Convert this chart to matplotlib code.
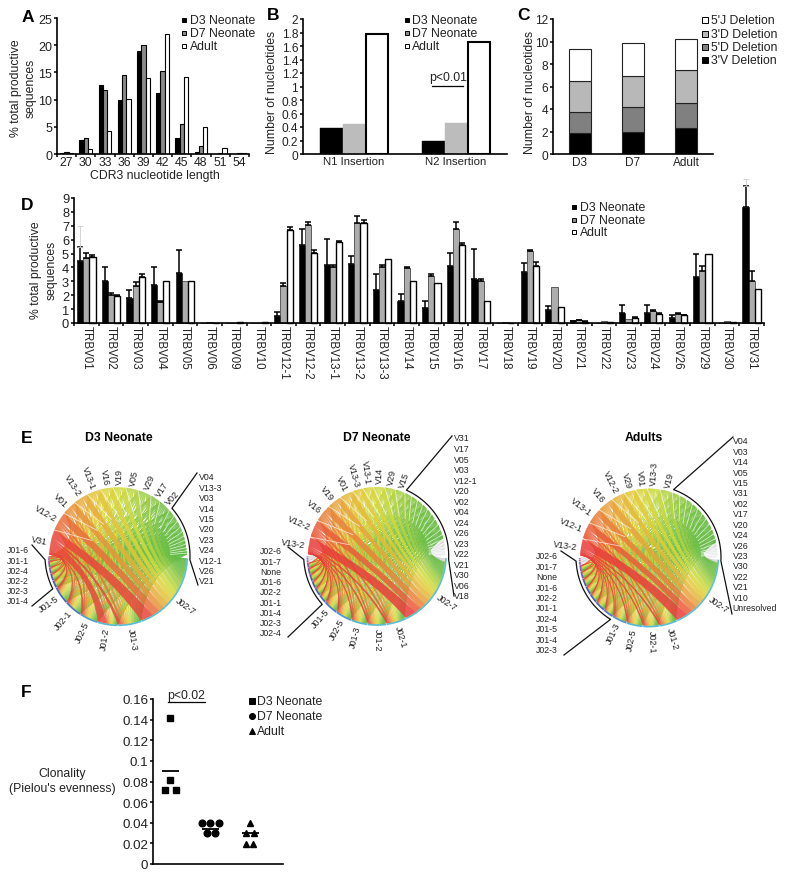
#!/usr/bin/env python3
"""Multi panel TCR repertoire figure (A-F): bars, stacks, chord diagrams, dots."""
import numpy as np
import matplotlib
matplotlib.use("Agg")
import matplotlib.pyplot as plt
from matplotlib.colors import LinearSegmentedColormap
from matplotlib.patches import PathPatch
from matplotlib.path import Path

plt.rcParams["font.family"] = ["Liberation Sans", "DejaVu Sans"]
plt.rcParams["text.color"] = "#222222"
plt.rcParams["xtick.labelcolor"] = "#222222"
plt.rcParams["ytick.labelcolor"] = "#222222"

W, H = 800, 879
FS = 8.8

# panel A
A_LEN = ["27", "30", "33", "36", "39", "42", "45", "48", "51", "54"]
A_D3 = [0.1, 2.6, 12.7, 9.9, 19.0, 11.3, 3.0, 0.35, 0.05, 0.0]
A_D7 = [0.3, 3.0, 11.8, 14.6, 20.0, 15.3, 5.6, 1.5, 0.25, 0.1]
A_AD = [0.15, 0.9, 4.2, 10.1, 14.0, 22.0, 14.2, 5.0, 1.1, 0.1]

# panel B
B_CATS = ["N1 Insertion", "N2 Insertion"]
B_D3 = [0.38, 0.19]
B_D7 = [0.44, 0.46]
B_AD = [1.78, 1.66]

# panel C
C_CATS = ["D3", "D7", "Adult"]
C_3V = [1.9, 2.0, 2.35]
C_5D = [1.85, 2.15, 2.2]
C_3D = [2.75, 2.75, 2.95]
C_5J = [2.8, 3.0, 2.7]

# panel D
D_GENES = ["TRBV01", "TRBV02", "TRBV03", "TRBV04", "TRBV05", "TRBV06", "TRBV09",
           "TRBV10", "TRBV12-1", "TRBV12-2", "TRBV13-1", "TRBV13-2", "TRBV13-3",
           "TRBV14", "TRBV15", "TRBV16", "TRBV17", "TRBV18", "TRBV19", "TRBV20",
           "TRBV21", "TRBV22", "TRBV23", "TRBV24", "TRBV26", "TRBV29", "TRBV30",
           "TRBV31"]
D_D3 = [4.5, 3.0, 1.8, 2.75, 3.6, 0.02, 0.0, 0.0, 0.5, 5.6, 4.15, 4.25, 2.4, 1.55,
        1.1, 4.1, 3.15, 0.0, 3.65, 0.95, 0.12, 0.02, 0.75, 0.75, 0.35, 3.3, 0.02, 8.35]
D_D3_TOP = [5.5, 4.0, 2.4, 4.05, 5.25, 0.02, 0.0, 0.0, 0.8, 6.8, 6.05, 4.85, 3.5, 2.1,
            1.55, 5.05, 5.35, 0.0, 4.35, 1.25, 0.15, 0.02, 1.3, 1.3, 0.6, 4.95, 0.02, 9.9]
D_D7 = [4.7, 2.05, 2.7, 1.5, 3.0, 0.04, 0.0, 0.0, 2.7, 7.05, 4.05, 7.2, 4.0, 3.95,
        3.4, 6.8, 3.0, 0.05, 5.2, 2.6, 0.2, 0.18, 0.3, 0.9, 0.65, 3.75, 0.12, 3.0]
D_D7_TOP = [5.05, 2.15, 2.95, 1.6, 3.0, 0.04, 0.0, 0.0, 2.9, 7.3, 4.2, 7.7, 4.2, 4.0,
            3.5, 7.3, 3.15, 0.05, 5.25, 2.6, 0.25, 0.18, 0.3, 0.95, 0.75, 4.1, 0.12, 3.75]
D_AD = [4.75, 1.95, 3.3, 3.0, 3.0, 0.03, 0.05, 0.05, 6.7, 5.05, 5.8, 7.2, 4.6, 3.05,
        2.9, 5.6, 1.55, 0.0, 4.1, 1.15, 0.1, 0.08, 0.35, 0.65, 0.55, 4.95, 0.1, 2.45]
D_AD_TOP = [4.9, 2.0, 3.5, 3.0, 3.0, 0.03, 0.05, 0.05, 6.9, 5.25, 5.9, 7.4, 4.6, 3.05,
            2.9, 5.75, 1.55, 0.0, 4.4, 1.15, 0.15, 0.08, 0.4, 0.7, 0.6, 4.95, 0.1, 2.45]

# panel E, sector sizes in degrees
E1_V = ["V31", "V12-2", "V01", "V13-2", "V13-1", "V16", "V19", "V05", "V29", "V17",
        "V02", "V04", "V13-3", "V03", "V14", "V15", "V20", "V23", "V24", "V12-1",
        "V26", "V21"]
E1_V_DEG = [23, 17, 13, 13, 12, 11, 11, 11, 12, 9, 11, 6, 5, 5, 4, 3.5, 3, 3, 2.5, 2, 1.5, 1]
E1_J = ["J01-6", "J01-1", "J02-4", "J02-2", "J02-3", "J01-4", "J01-5", "J02-1", "J02-5",
        "J01-2", "J01-3", "J02-7"]
E1_J_DEG = [1, 2, 5, 5, 6, 6, 15, 15, 16, 17, 20, 70]
E1_BIG = {("V31", "J01-2"): 11, ("V31", "J02-7"): 10}

E2_V = ["V13-2", "V12-2", "V16", "V19", "V01", "V13-3", "V13-1", "V14", "V29", "V15",
        "V31", "V17", "V05", "V03", "V12-1", "V20", "V02", "V04", "V24", "V26", "V23",
        "V22", "V21", "V30", "V06", "V18"]
E2_V_DEG = [16, 16, 16, 13, 12, 9, 9, 10, 9, 9, 6, 6, 5.5, 5.5, 5, 5, 5, 4.5, 4, 3.5, 3,
            2.5, 2, 1, 0.8, 0.7]
E2_J = ["J02-6", "J01-7", "None", "J01-6", "J02-2", "J01-1", "J01-4", "J02-3", "J02-4",
        "J01-5", "J02-5", "J01-3", "J01-2", "J02-1", "J02-7"]
E2_J_DEG = [1, 1.5, 2, 4, 5, 6, 6, 7, 7, 12.5, 14, 14, 16, 17, 65]
E2_BIG = {("V13-2", "J02-7"): 9}

E3_V = ["V13-2", "V12-1", "V13-1", "V16", "V12-2", "V29", "V01", "V13-3", "V19", "V04",
        "V03", "V14", "V05", "V15", "V31", "V02", "V17", "V20", "V24", "V26", "V23",
        "V30", "V22", "V21", "V10", "Unresolved"]
E3_V_DEG = [16, 15.5, 14.5, 14.5, 12, 10.5, 10, 11.5, 11, 7, 6.5, 6, 6, 5.5, 5, 5, 4.5, 4,
            4, 3.5, 3, 1.5, 1, 1, 0.6, 0.5]
E3_J = ["J02-6", "J01-7", "None", "J01-6", "J02-2", "J01-1", "J02-4", "J01-5", "J01-4",
        "J02-3", "J01-3", "J02-5", "J02-1", "J01-2", "J02-7"]
E3_J_DEG = [1, 1.5, 2.5, 5, 6, 7, 7, 8, 9, 9, 12.5, 14, 13.5, 15.5, 66]
E3_BIG = {("V13-2", "J02-7"): 9}

# panel F
F_D3 = [0.1415, 0.0815, 0.0715, 0.0715]
F_D3_X = [0.0, 0.0, -0.125, 0.15]
F_D7 = [0.04, 0.04, 0.04, 0.03, 0.03]
F_D7_X = [-0.2, 0.0, 0.22, -0.08, 0.13]
F_AD = [0.0394, 0.03, 0.03, 0.0197, 0.0197]
F_AD_X = [0.0, -0.09, 0.1, -0.09, 0.08]
F_MEANS = [0.0897, 0.034, 0.03]

RING_COLS = LinearSegmentedColormap.from_list(
    "ring", ["#c05cc0", "#9050c4", "#4a50c0", "#4468c8", "#56b9cf", "#5cc0d0"])
V_COLS = LinearSegmentedColormap.from_list(
    "vcols", [(0.0, "#e8303c"), (0.12, "#ea5c3a"), (0.27, "#e8a03c"), (0.42, "#e3cf3c"),
              (0.5, "#d3dc3f"), (0.62, "#a5cf45"), (0.75, "#70c045"), (1.0, "#62bb48")])


def px_axes(fig, x0, y0, x1, y1):
    """Axes whose plot area sits on the given pixel box (y measured from the top)."""
    ax = fig.add_axes([x0 / W, 1 - y1 / H, (x1 - x0) / W, (y1 - y0) / H])
    for side in ("top", "right"):
        ax.spines[side].set_visible(False)
    for side in ("left", "bottom"):
        ax.spines[side].set_linewidth(1.2)
    ax.tick_params(axis="both", width=1.1, length=2.5, pad=1.0, labelsize=FS)
    return ax


def group_ticks(ax, n, labels, size=FS, **kw):
    """Ticks sit between the groups, labels in the middle of each group."""
    ax.set_xlim(0, n)
    ax.set_xticks(np.arange(n + 1))
    ax.set_xticklabels([])
    ax.set_xticks(np.arange(n) + 0.5, labels, minor=True, **kw)
    ax.tick_params(axis="x", which="minor", length=0, pad=1.5, labelsize=size)


def legend(ov, mx, tx, ys, labels, colors, size=5, markers=None):
    for i, (y, lab, col) in enumerate(zip(ys, labels, colors)):
        m = markers[i] if markers else "s"
        ov.plot([mx], [y], m, ms=size * 0.72, mfc=col, mec="black", mew=0.7)
        ov.text(tx, y, lab, fontsize=FS, va="center", ha="left")


def arc(cx, cy, r, a0, a1):
    t = np.radians(np.linspace(a0, a1, max(3, int(abs(a1 - a0) * 2) + 2)))
    return np.column_stack([cx + r * np.cos(t), cy - r * np.sin(t)])


def bend(c, p, q, pull=0.6):
    # control point between the centre and the middle of the chord p-q
    return tuple(c + pull * ((p + q) / 2 - c))


def ribbon(ov, cx, cy, r, v0, v1, j0, j1, col, alpha, edge):
    # v runs clockwise, so its far edge joins the far edge of the j arc
    c = np.array([cx, cy])
    pv = arc(cx, cy, r, v0, v1)
    pj = arc(cx, cy, r, j1, j0)
    verts = (list(pv) + [bend(c, pv[-1], pj[0]), tuple(pj[0])] + list(pj[1:])
             + [bend(c, pj[-1], pv[0]), tuple(pv[0])])
    codes = ([Path.MOVETO] + [Path.LINETO] * (len(pv) - 1) + [Path.CURVE3, Path.CURVE3]
             + [Path.LINETO] * (len(pj) - 1) + [Path.CURVE3, Path.CURVE3])
    ov.add_patch(PathPatch(Path(verts, codes), fc=col, ec=col, lw=edge, alpha=alpha))


def chord(ov, cx, cy, r, vs, v_deg, js, j_deg, big, n_vr, n_jl, v_gray, j_gray,
          right, left, rlead, llead):
    """vs run clockwise over the top half, js counter-clockwise under the bottom half."""
    v_deg, j_deg = np.array(v_deg, float), np.array(j_deg, float)
    gap_v, gap_j = 0.7, 0.4
    v_deg = v_deg * (178 - gap_v * (len(vs) - 1)) / v_deg.sum()
    j_deg = j_deg * (177.5 - gap_j * (len(js) - 1)) / j_deg.sum()

    flow = np.outer(v_deg, j_deg) / j_deg.sum()
    for (vn, jn), d in big.items():
        flow[vs.index(vn), js.index(jn)] = d
    v_part = flow / flow.sum(axis=1, keepdims=True) * v_deg[:, None]
    j_part = flow / flow.sum(axis=0, keepdims=True) * j_deg[None, :]

    v_start = 179 - np.concatenate([[0], np.cumsum(v_deg + gap_v)[:-1]])
    j_start = -179.5 + np.concatenate([[0], np.cumsum(j_deg + gap_j)[:-1]])

    # green first so that the red bands lie on top
    for i in range(len(vs) - 1, -1, -1):
        mid = (v_start[i] - v_deg[i] / 2)
        col = V_COLS((179 - mid) / 178)
        v_a = v_start[i]
        for j in range(len(js)):
            j_a = j_start[j] + j_part[:i, j].sum()
            muted = i >= len(vs) - v_gray or j < j_gray
            ribbon(ov, cx, cy, r, v_a, v_a - v_part[i, j], j_a, j_a + j_part[i, j],
                   "#8a8a8a" if muted else col, 0.3 if muted else 0.86,
                   0.0 if muted else 0.25)
            v_a -= v_part[i, j]

    # pale cuts between the V sectors, running in towards the place the fans meet
    meet = np.array([cx + 0.42 * r, cy])
    for i in range(1, len(vs)):
        a = np.radians(v_start[i] + gap_v / 2)
        rim = np.array([cx + r * np.cos(a), cy - r * np.sin(a)])
        inner = rim + 0.4 * (meet - rim)
        ov.plot([rim[0], inner[0]], [rim[1], inner[1]], color="white", lw=0.55, alpha=0.75)

    # coloured rim on the J side
    for j in range(len(js)):
        p = arc(cx, cy, r + 0.8, j_start[j], j_start[j] + j_deg[j])
        ov.plot(p[:, 0], p[:, 1], color=RING_COLS(j / (len(js) - 1)), lw=1.2,
                solid_capstyle="butt")

    # gene names standing on the rim
    for i in range(n_vr):
        a = v_start[i] - v_deg[i] / 2
        x, y = cx + (r + 4) * np.cos(np.radians(a)), cy - (r + 4) * np.sin(np.radians(a))
        if a > 90:
            ov.text(x, y, vs[i], fontsize=6.5, rotation=a - 180, rotation_mode="anchor",
                    ha="right", va="center")
        else:
            ov.text(x, y, vs[i], fontsize=6.5, rotation=a, rotation_mode="anchor",
                    ha="left", va="center")
    for j in range(n_jl, len(js)):
        a = j_start[j] + j_deg[j] / 2
        x, y = cx + (r + 4) * np.cos(np.radians(a)), cy - (r + 4) * np.sin(np.radians(a))
        if a < -90:
            ov.text(x, y, js[j], fontsize=6.5, rotation=a + 180, rotation_mode="anchor",
                    ha="right", va="center")
        else:
            ov.text(x, y, js[j], fontsize=6.5, rotation=a, rotation_mode="anchor",
                    ha="left", va="center")

    # listed names for the small sectors
    for name, y in zip(vs[n_vr:], np.linspace(right[1], right[2], len(vs) - n_vr)):
        ov.text(right[0], y, name, fontsize=6.3, ha="left", va="center")
    for name, y in zip(js[:n_jl], np.linspace(left[1], left[2], n_jl)):
        ov.text(left[0], y, name, fontsize=6.3, ha="left", va="center")

    # brackets with their leader lines
    a0 = v_start[n_vr] + 0.3
    p = arc(cx, cy, r + 3.5, a0, -3)
    p = np.vstack([rlead[0], p, rlead[1]])
    ov.plot(p[:, 0], p[:, 1], color="#111111", lw=0.9)
    a1 = j_start[n_jl] - 0.5
    p = arc(cx, cy, r + 4.5, -177, a1)
    p = np.vstack([llead[0], p, llead[1]])
    ov.plot(p[:, 0], p[:, 1], color="#111111", lw=0.9)


fig = plt.figure(figsize=(W / 100, H / 100), dpi=100, facecolor="white")

# A
ax = px_axes(fig, 57, 19, 249, 155)
x = np.arange(len(A_LEN)) + 0.5
for off, vals, fc in ((-0.225, A_D3, "black"), (0, A_D7, "#8a8a8a"), (0.225, A_AD, "white")):
    ax.bar(x + off, vals, 0.225, color=fc, ec="black", lw=0.8)
group_ticks(ax, len(A_LEN), A_LEN)
ax.set_ylim(0, 25)
ax.set_yticks(range(0, 26, 5))
ax.tick_params(axis="y", labelsize=9)

# B
ax = px_axes(fig, 303, 20, 507, 155)
x = np.arange(2) + 0.5
ax.bar(x - 0.225, B_D3, 0.225, color="black", ec="black", lw=0.3)
ax.bar(x, B_D7, 0.225, color="#bcbcbc", ec="#bcbcbc", lw=0.3)
ax.bar(x + 0.225, B_AD, 0.215, color="white", ec="black", lw=1.5)
group_ticks(ax, 2, B_CATS, size=8.2)
ax.set_xticks([])
ax.set_ylim(0, 2)
ax.set_yticks(np.arange(0, 2.01, 0.2), [f"{v:g}" for v in np.arange(0, 2.01, 0.2).round(1)])
ax.tick_params(axis="y", labelsize=8.6)

# C
ax = px_axes(fig, 553, 20, 713, 155)
x = np.arange(3) + 0.5
bottom = np.zeros(3)
for vals, fc in ((C_3V, "black"), (C_5D, "#808080"), (C_3D, "#b8b8b8"), (C_5J, "white")):
    ax.bar(x, vals, 0.41, bottom=bottom, color=fc, ec="#222222", lw=0.8)
    bottom += np.array(vals)
group_ticks(ax, 3, C_CATS, size=8.5)
ax.set_xticks([])
ax.set_ylim(0, 12)
ax.set_yticks(range(0, 13, 2))
ax.tick_params(axis="y", labelsize=8.6)

# D
ax = px_axes(fig, 74, 199, 764, 324)
x = np.arange(len(D_GENES)) + 0.5
for off, vals, tops, fc in ((-0.25, D_D3, D_D3_TOP, "black"), (0, D_D7, D_D7_TOP, "#adadad"),
                            (0.25, D_AD, D_AD_TOP, "white")):
    vals, tops = np.array(vals), np.array(tops)
    ax.bar(x + off, vals, 0.25, color=fc, ec="black", lw=1.0 if fc == "white" else 0.4,
           clip_on=False)
    show = tops > vals
    ax.errorbar((x + off)[show], vals[show], yerr=[np.zeros(show.sum()), (tops - vals)[show]],
                fmt="none", ecolor="black", elinewidth=1.1, capsize=2.4, capthick=1.1,
                clip_on=False)
ax.errorbar([x[0] - 0.25, x[-1] - 0.25], [5.5, 9.9], yerr=[[0, 0], [1.5, 0.5]], fmt="none",
            ecolor="#cccccc", elinewidth=0.6, capsize=2, capthick=0.6, clip_on=False)
group_ticks(ax, len(D_GENES), D_GENES, size=8.3, rotation=-90)
ax.set_ylim(0, 9)
ax.set_yticks(range(10))
ax.tick_params(axis="y", labelsize=9.3)

# F
ax = px_axes(fig, 153, 700, 283, 865)
ax.set_xlim(0.575, 3.825)
ax.set_ylim(0, 0.16)
ax.set_xticks([])
ax.set_yticks(np.arange(0, 0.161, 0.02), [f"{v:g}" for v in np.arange(0, 0.161, 0.02).round(2)])
ax.tick_params(axis="y", labelsize=9.6, length=2.5, pad=1)
ax.plot(1 + np.array(F_D3_X), F_D3, "s", color="black", ms=4.6)
ax.plot(2 + np.array(F_D7_X), F_D7, "o", color="black", ms=4.8)
ax.plot(3 + np.array(F_AD_X), F_AD, "^", color="black", ms=4.8)
ax.hlines(F_MEANS, np.array([1, 2, 3]) - 0.2, np.array([1, 2, 3]) + 0.22, color="black", lw=1.3)

# everything placed by pixel goes on a transparent overlay
ov = fig.add_axes([0, 0, 1, 1], facecolor="none", zorder=5)
ov.set_xlim(0, W)
ov.set_ylim(H, 0)
ov.axis("off")

for letter, lx, ly in (("A", 22, 17), ("B", 267, 15), ("C", 517, 15), ("D", 21, 206),
                       ("E", 21, 439), ("F", 21, 693)):
    ov.text(lx, ly, letter, fontsize=12.5, fontweight="bold", color="black", ha="left", va="center")

ov.text(16, 88, "% total productive", fontsize=FS, rotation=90, ha="center", va="center")
ov.text(31, 88, "sequences", fontsize=FS, rotation=90, ha="center", va="center")
ov.text(155, 176, "CDR3 nucleotide length", fontsize=FS, ha="center", va="center")
ov.text(272, 92, "Number of nucleotides", fontsize=FS, rotation=90, ha="center", va="center")
ov.text(530, 92, "Number of nucleotides", fontsize=FS, rotation=90, ha="center", va="center")
ov.text(36, 270, "% total productive", fontsize=FS, rotation=90, ha="center", va="center")
ov.text(52, 270, "sequences", fontsize=FS, rotation=90, ha="center", va="center")

NEO = ["D3 Neonate", "D7 Neonate", "Adult"]
legend(ov, 184, 190, [21, 34, 47], NEO, ["black", "#8a8a8a", "white"])
legend(ov, 407, 412, [21, 34, 47], NEO, ["black", "#8a8a8a", "white"])
legend(ov, 705, 711, [21, 35, 48, 61],
       ["5'J Deletion", "3'D Deletion", "5'D Deletion", "3'V Deletion"],
       ["white", "#b8b8b8", "#808080", "black"], size=6)
legend(ov, 574, 580, [208, 221, 233], NEO, ["black", "#8a8a8a", "white"])
legend(ov, 252, 257, [702, 717, 732], NEO, ["black"] * 3, size=6, markers=["s", "o", "^"])

ov.text(448, 78, "p<0.01", fontsize=FS, ha="center", va="center")
ov.plot([432, 463], [87, 87], color="black", lw=0.9)
ov.text(186, 696, "p<0.02", fontsize=FS, ha="center", va="center")
ov.plot([168, 205], [703, 703], color="black", lw=0.9)
ov.text(62, 774, "Clonality", fontsize=FS, ha="center", va="center")
ov.text(62, 789, "(Pielou's evenness)", fontsize=FS, ha="center", va="center")

for title, tx in (("D3 Neonate", 119), ("D7 Neonate", 377), ("Adults", 644)):
    ov.text(tx, 438, title, fontsize=FS, fontweight="bold", color="black", ha="center", va="center")

chord(ov, 118, 557, 68.5, E1_V, E1_V_DEG, E1_J, E1_J_DEG, E1_BIG, 11, 6, 0, 0,
      (199, 478, 582), (7, 551, 602),
      ((197, 474), (198, 586)), ((32, 546), (32, 607)))
chord(ov, 376.7, 556.7, 68.5, E2_V, E2_V_DEG, E2_J, E2_J_DEG, E2_BIG, 10, 9, 6, 3,
      (454, 439, 597), (260, 552, 634),
      ((452, 437), (454, 597)), ((288, 548), (288, 638)))
chord(ov, 649, 558.3, 68.5, E3_V, E3_V_DEG, E3_J, E3_J_DEG, E3_BIG, 9, 10, 6, 3,
      (732.7, 441.7, 608.7), (536, 556.7, 650.7),
      ((733, 438), (732, 615)), ((561, 552), (564, 656)))

fig.savefig("out.png", dpi=100)
